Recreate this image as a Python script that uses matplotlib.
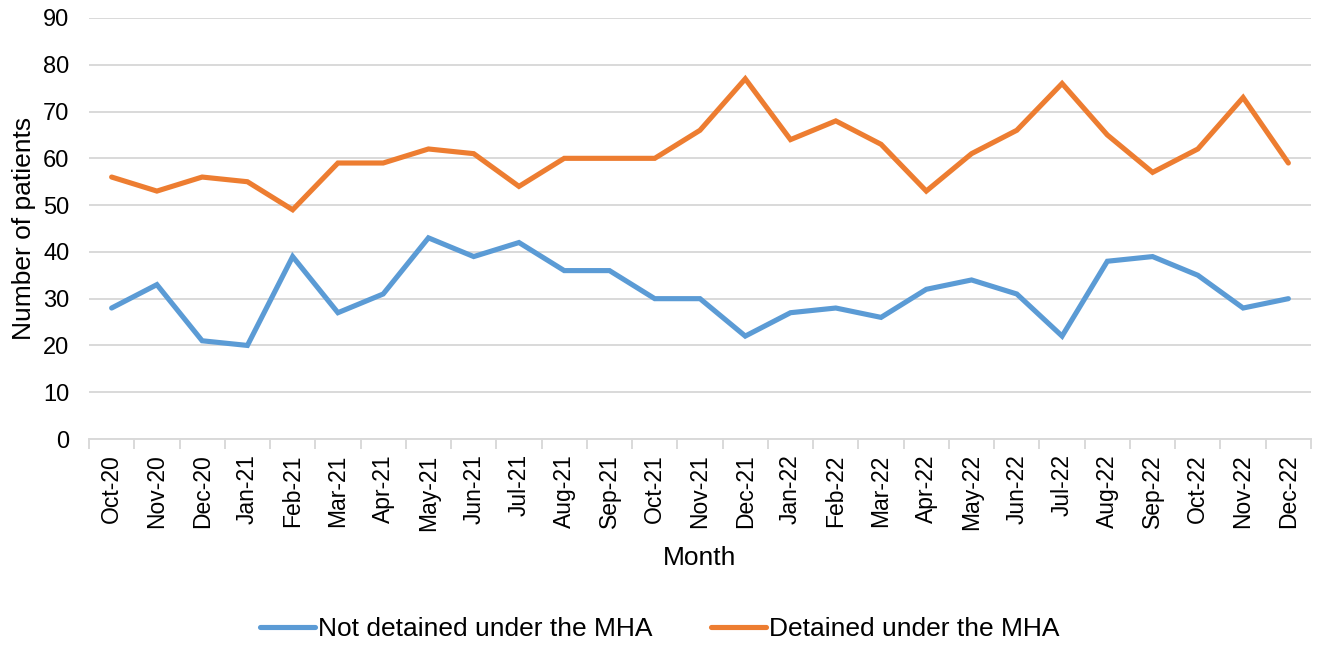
import matplotlib
matplotlib.use("Agg")
import matplotlib.pyplot as plt
import numpy as np

months = ["Oct-20", "Nov-20", "Dec-20", "Jan-21", "Feb-21", "Mar-21", "Apr-21", "May-21",
          "Jun-21", "Jul-21", "Aug-21", "Sep-21", "Oct-21", "Nov-21", "Dec-21", "Jan-22",
          "Feb-22", "Mar-22", "Apr-22", "May-22", "Jun-22", "Jul-22", "Aug-22", "Sep-22",
          "Oct-22", "Nov-22", "Dec-22"]
not_detained = [28, 33, 21, 20, 39, 27, 31, 43, 39, 42, 36, 36, 30, 30, 22, 27, 28, 26,
                32, 34, 31, 22, 38, 39, 35, 28, 30]
detained = [56, 53, 56, 55, 49, 59, 59, 62, 61, 54, 60, 60, 60, 66, 77, 64, 68, 63,
            53, 61, 66, 76, 65, 57, 62, 73, 59]
series_names = ["Not detained under the MHA", "Detained under the MHA"]
y_ticks = list(range(0, 91, 10))

plt.rcParams['font.family'] = ['Liberation Sans', 'DejaVu Sans']

fig = plt.figure(figsize=(13.19, 6.45), dpi=100)
ax = fig.add_axes([89/1319, 1-439/645, (1311-89)/1319, (439-18)/645])

x = np.arange(len(months))
ax.plot(x, not_detained, color="#5B9BD5", lw=3.7, solid_capstyle="round",
        solid_joinstyle="miter", label=series_names[0], zorder=3)
ax.plot(x, detained, color="#ED7D31", lw=3.7, solid_capstyle="round",
        solid_joinstyle="miter", label=series_names[1], zorder=3)

ax.set_xlim(-0.5, len(months) - 0.5)
ax.set_ylim(0, 90)
ax.set_yticks(y_ticks)
ax.set_yticklabels([str(v) for v in y_ticks], fontsize=17)
ax.tick_params(axis='y', length=0, pad=14)
ax.grid(axis='y', color="#D9D9D9", lw=1.4, zorder=0)
ax.set_axisbelow(True)

ax.set_xticks(x)
ax.set_xticklabels(months, rotation=90, fontsize=16.5)
ax.set_xticks(np.arange(-0.5, len(months)), minor=True)
ax.tick_params(axis='x', which='major', length=0, pad=11)
ax.tick_params(axis='x', which='minor', length=7, width=1.4, color="#D9D9D9")

for s in ['top', 'right', 'left']:
    ax.spines[s].set_visible(False)
ax.spines['bottom'].set_color("#D9D9D9")
ax.spines['bottom'].set_linewidth(1.4)

ax.set_ylabel("Number of patients", fontsize=19, labelpad=5)
ax.set_xlabel("Month", fontsize=19, labelpad=11)

fig.legend(loc='center', bbox_to_anchor=(0.5, 1-629/645), ncol=2, frameon=False,
           fontsize=19, handlelength=2.1, handletextpad=0.1, columnspacing=2.2)

fig.savefig("out.png", dpi=100)
